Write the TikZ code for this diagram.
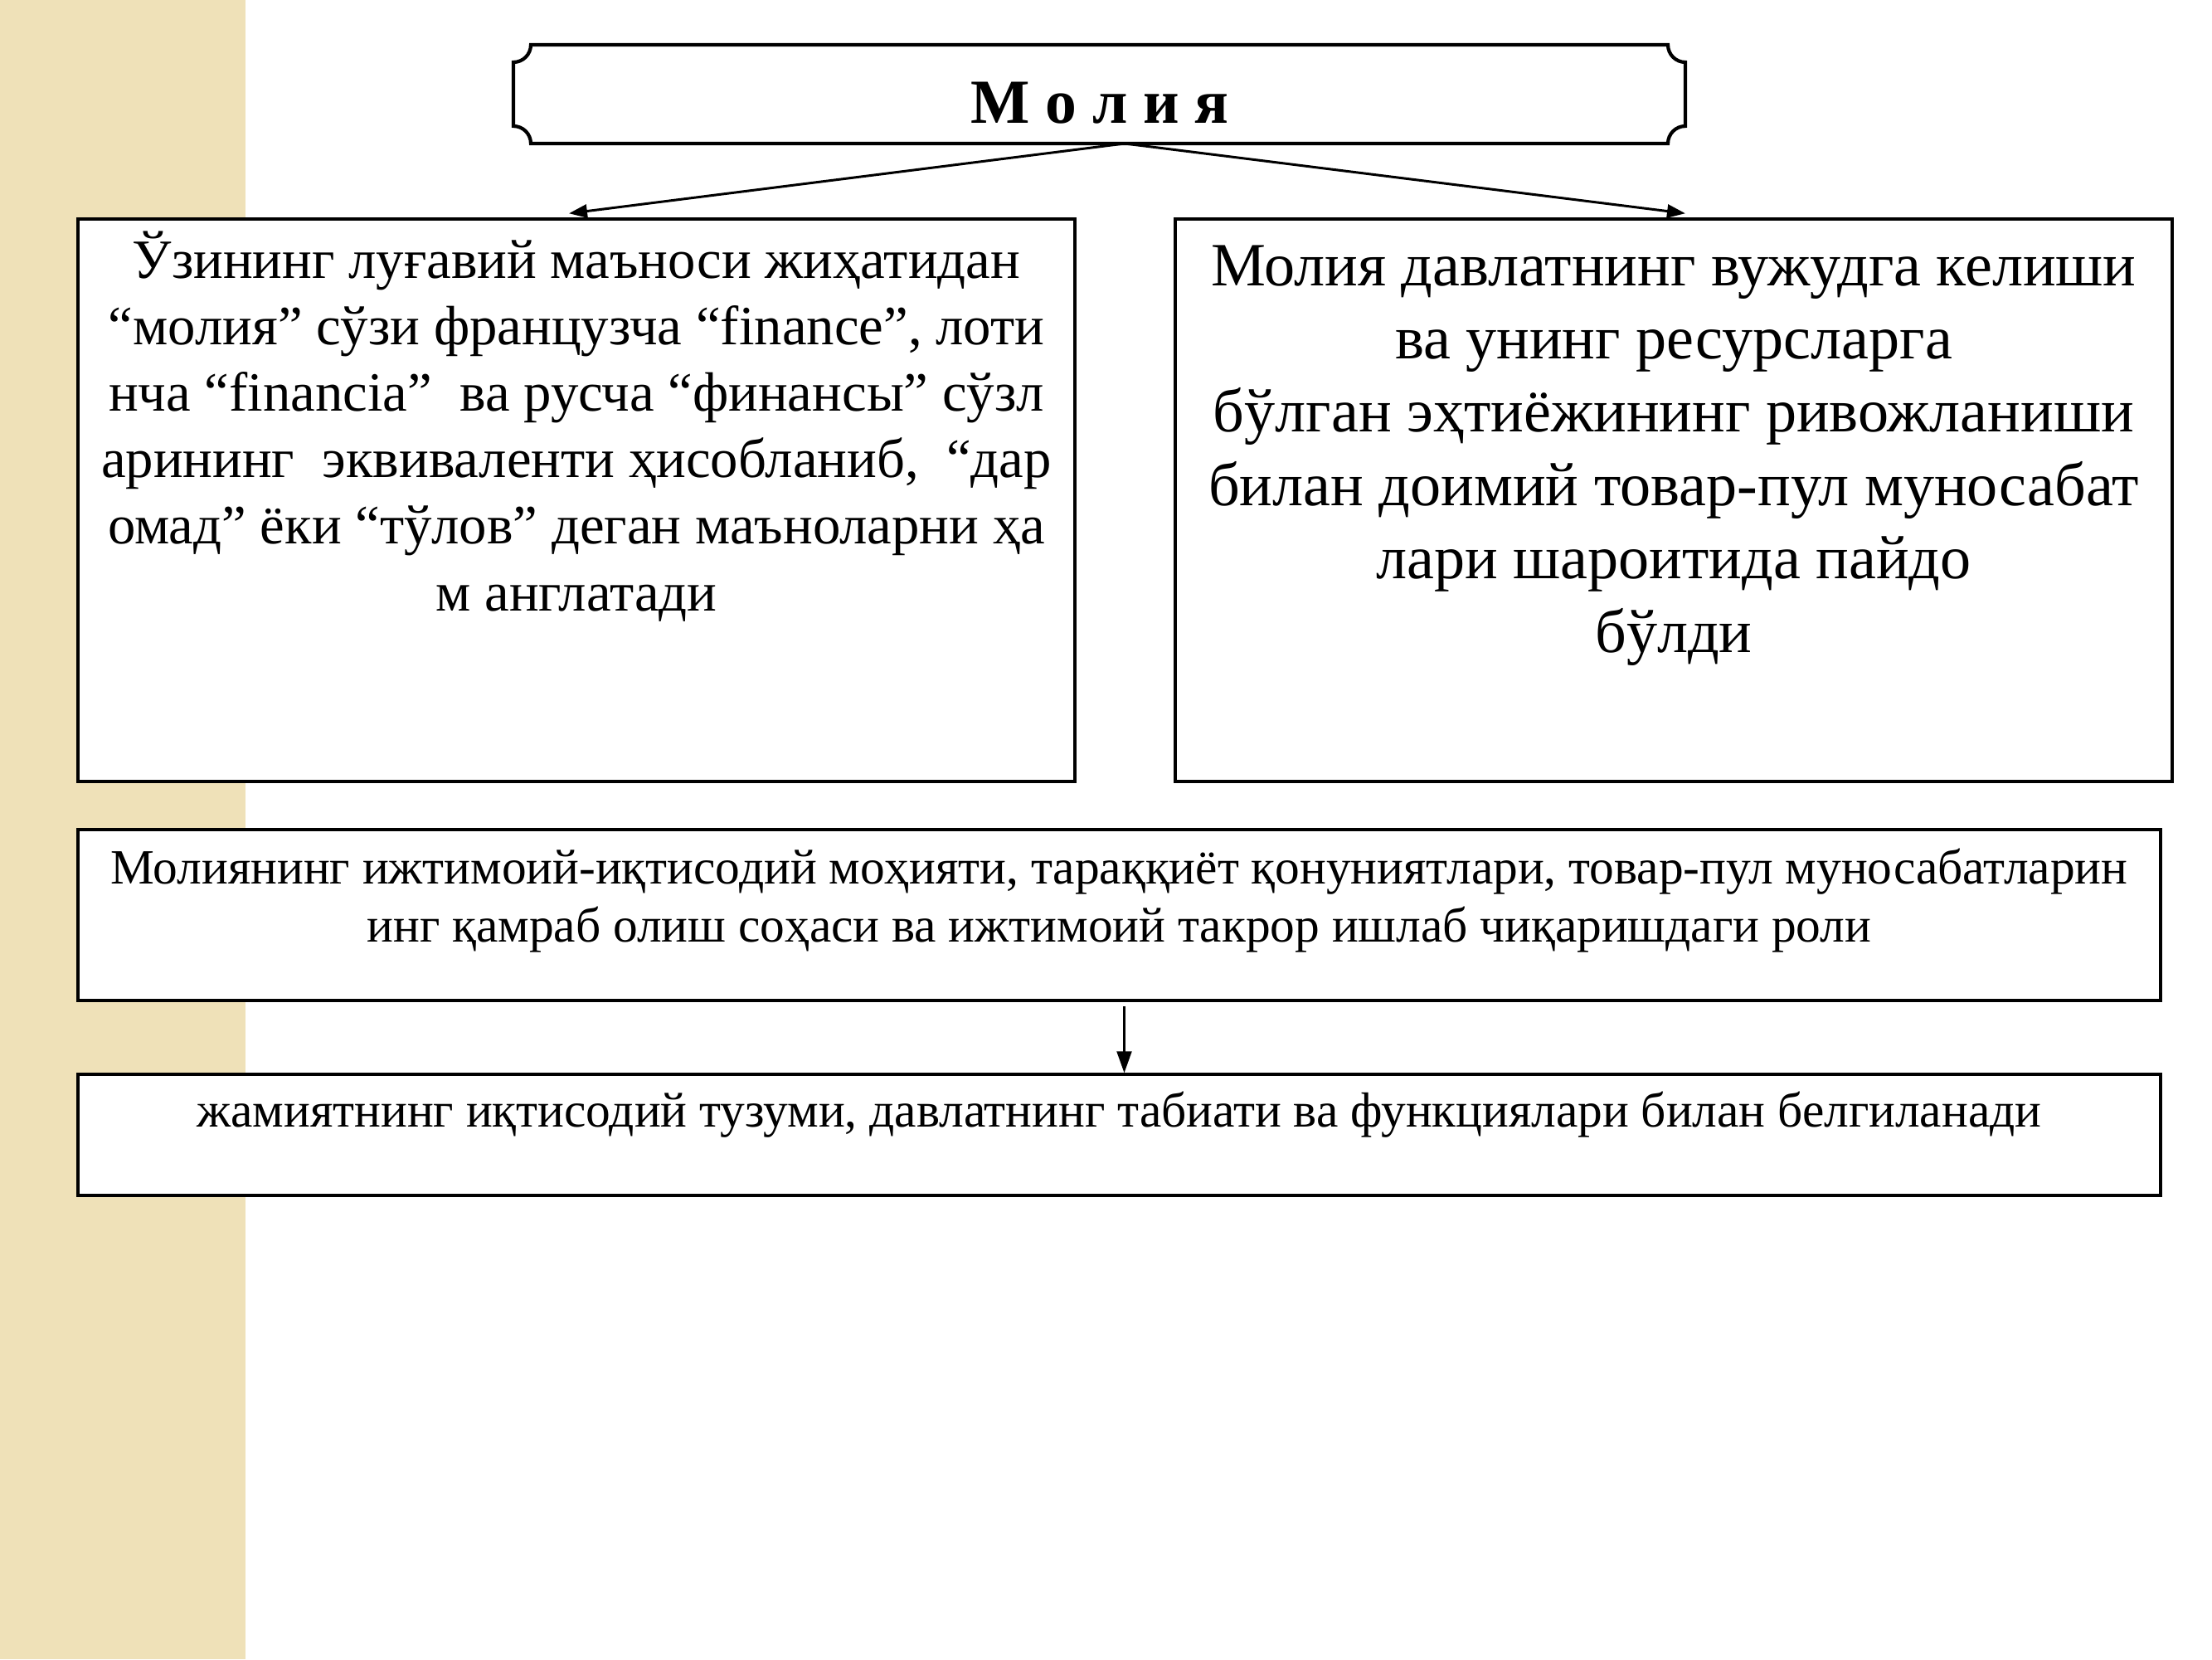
\documentclass[tikz,border=0pt]{standalone}
\usepackage{fontspec}
\setmainfont{Liberation Serif}
\usetikzlibrary{arrows.meta}
\definecolor{stripbg}{RGB}{239,225,184}
\tikzset{
  boxnode/.style={draw=black, line width=1pt, rectangle, inner sep=0pt, fill=white},
  txt/.style={inner sep=0pt, align=center},
  conn/.style={line width=0.85pt, -{Triangle[length=0.22cm,width=0.16cm]}},
  connthin/.style={line width=0.6pt, -{Triangle[length=0.26cm,width=0.18cm]}}
}
\begin{document}
\begin{tikzpicture}[x=1cm,y=-1cm]
\useasboundingbox (0,0) rectangle (26.67,20);
\fill[white] (0,0) rectangle (26.67,20);
\fill[stripbg] (0,0) rectangle (2.96,20);

% title plaque
\def\r{0.21}
\draw[line width=1.2pt, fill=white] (6.19+\r,0.54) -- (20.32-\r,0.54)
  arc[start angle=180,end angle=90,radius=\r] -- (20.32,1.73-\r)
  arc[start angle=270,end angle=180,radius=\r] -- (6.19+\r,1.73)
  arc[start angle=0,end angle=-90,radius=\r] -- (6.19,0.54+\r)
  arc[start angle=90,end angle=0,radius=\r] -- cycle;
\node[txt, anchor=base, font=\fontsize{21.5}{25}\selectfont\bfseries] (title) at (13.26,1.48) {М о л и я};
\coordinate (src) at (13.56,1.73);

% boxes
\node[boxnode, minimum width=12.02cm, minimum height=6.78cm] (left) at (6.95,6.03) {};
\node[boxnode, minimum width=12.02cm, minimum height=6.78cm] (right) at (20.18,6.03) {};
\node[boxnode, minimum width=25.11cm, minimum height=2.06cm] (mid) at (13.495,11.03) {};
\node[boxnode, minimum width=25.11cm, minimum height=1.46cm] (bot) at (13.495,13.68) {};

% texts (anchor = baseline of the last line)
\node[txt, anchor=base, font=\fontsize{19}{22.8}\selectfont] (lefttxt) at (6.95,7.36)
 {Ўзининг луғавий маъноси жиҳатидан\\
  “молия” сўзи французча “finance”, лоти\\
  нча “financia”\ \ ва русча “финансы” сўзл\\
  арининг\ \ эквиваленти ҳисобланиб,\ \ “дар\\
  омад” ёки “тўлов” деган маъноларни ҳа\\
  м англатади};
\node[txt, anchor=base, font=\fontsize{21.1}{25.15}\selectfont] (righttxt) at (20.18,7.86)
 {Молия давлатнинг вужудга келиши\\
  ва унинг ресурсларга\\
  бўлган эҳтиёжининг ривожланиши\\
  билан доимий товар-пул муносабат\\
  лари шароитида пайдо\\
  бўлди};
\node[txt, anchor=base, font=\fontsize{16.9}{19.9}\selectfont] (midtxt) at (13.495,11.35)
 {Молиянинг ижтимоий-иқтисодий моҳияти, тараққиёт қонуниятлари, товар-пул муносабатларин\\
  инг қамраб олиш соҳаси ва ижтимоий такрор ишлаб чиқаришдаги роли};
\node[txt, anchor=base, font=\fontsize{16.9}{19.9}\selectfont] (bottxt) at (13.495,13.58)
 {жамиятнинг иқтисодий тузуми, давлатнинг табиати ва функциялари билан белгиланади};

% connectors
\draw[conn] (src) -- ([xshift=-0.09cm,yshift=0.05cm]left.north);
\draw[conn] (src) -- ([xshift=0.14cm,yshift=0.05cm]right.north);
\draw[connthin] ([xshift=0.06cm,yshift=-0.05cm]mid.south) -- ([xshift=0.06cm]bot.north);
\end{tikzpicture}
\end{document}
